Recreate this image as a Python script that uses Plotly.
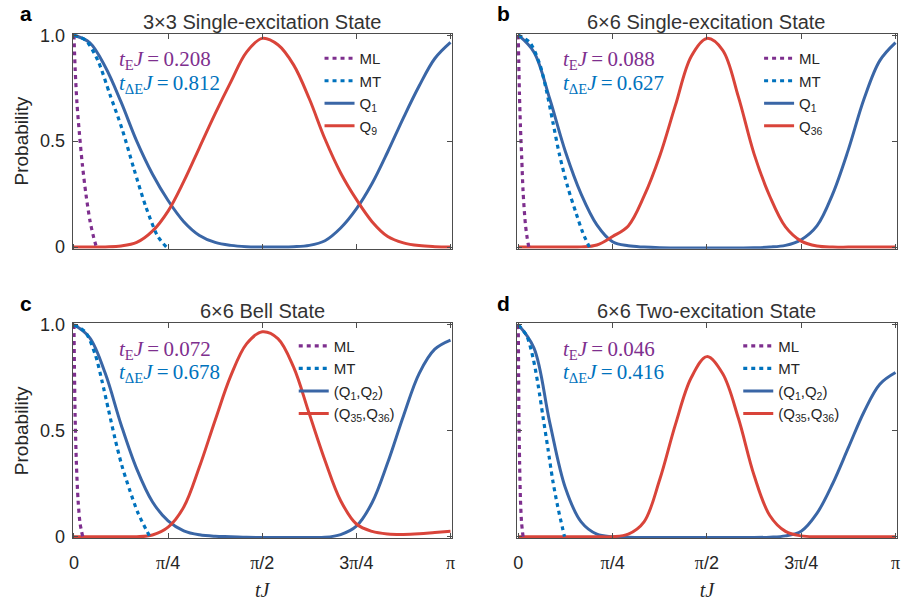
import numpy as np
import plotly.graph_objects as go

# ---------------- data ----------------
# common time grid tJ (step pi/24)
TJ_GRID = [0.0, 0.1309, 0.2618, 0.3927, 0.5236, 0.6545, 0.7854, 0.9163, 1.0472,
           1.1781, 1.3090, 1.4399, 1.5708, 1.7017, 1.8326, 1.9635, 2.0944, 2.2253,
           2.3562, 2.4871, 2.6180, 2.7489, 2.8798, 3.0107, 3.1416]

# panel a: 3x3 single-excitation state
A_START = [1.0, 0.965, 0.85, 0.685, 0.50, 0.345, 0.22, 0.12, 0.055, 0.022, 0.008, 0.002, 0.0,
           0.0005, 0.002, 0.008, 0.03, 0.09, 0.18, 0.30, 0.45, 0.61, 0.76, 0.89, 0.966]
A_END = [0.0, 0.0, 0.001, 0.005, 0.022, 0.075, 0.17, 0.31, 0.47, 0.63, 0.78, 0.92, 0.985,
         0.955, 0.86, 0.70, 0.51, 0.35, 0.225, 0.12, 0.05, 0.02, 0.007, 0.002, 0.0]
A_ML_T = [0.0, 0.01, 0.025, 0.045, 0.07, 0.10, 0.135, 0.165, 0.187]
A_ML_P = [1.0, 0.84, 0.68, 0.54, 0.39, 0.25, 0.12, 0.045, 0.0]
A_MT_T = [0.0, 0.1, 0.2, 0.3, 0.4, 0.5, 0.6, 0.7, 0.772]
A_MT_P = [1.0, 0.975, 0.88, 0.72, 0.56, 0.37, 0.19, 0.05, 0.0]

# panel b: 6x6 single-excitation state
B_START = [1.0, 0.92, 0.70, 0.45, 0.25, 0.105, 0.025, 0.006, 0.0, -0.003, -0.004, -0.004, -0.004,
           -0.004, -0.004, -0.003, 0.0, 0.008, 0.035, 0.10, 0.25, 0.46, 0.70, 0.88, 0.965]
B_END = [0.0, 0.0, 0.0, 0.0, 0.001, 0.01, 0.05, 0.10, 0.24, 0.43, 0.67, 0.90, 0.985,
         0.93, 0.71, 0.44, 0.24, 0.095, 0.028, 0.005, 0.0, 0.0, 0.0, 0.0, 0.0]
B_ML_T = [0.0, 0.004, 0.0097, 0.018, 0.029, 0.040, 0.059, 0.075, 0.088]
B_ML_P = [1.0, 0.875, 0.722, 0.569, 0.416, 0.263, 0.110, 0.04, 0.0]
B_MT_T = [0.0, 0.095, 0.178, 0.233, 0.288, 0.343, 0.412, 0.481, 0.536, 0.592]
B_MT_P = [1.0, 0.966, 0.865, 0.743, 0.59, 0.436, 0.283, 0.161, 0.070, 0.0]

# panel c: 6x6 Bell state
C_START = [1.0, 0.94, 0.77, 0.53, 0.32, 0.165, 0.075, 0.028, 0.009, 0.002, 0.0, -0.003, -0.004,
           -0.004, -0.004, -0.004, -0.003, 0.01, 0.05, 0.16, 0.35, 0.57, 0.77, 0.885, 0.928]
C_END = [0.0, 0.0, 0.0, 0.0, 0.0, 0.008, 0.045, 0.14, 0.33, 0.55, 0.76, 0.91, 0.967,
         0.935, 0.80, 0.58, 0.36, 0.17, 0.06, 0.025, 0.013, 0.011, 0.014, 0.02, 0.026]
C_ML_T = [0.0, 0.004, 0.0097, 0.0207, 0.0345, 0.051, 0.073]
C_ML_P = [1.0, 0.80, 0.569, 0.34, 0.171, 0.064, 0.0]
C_MT_T = [0.0, 0.095, 0.178, 0.233, 0.288, 0.343, 0.398, 0.467, 0.536, 0.633]
C_MT_P = [1.0, 0.966, 0.859, 0.737, 0.599, 0.462, 0.339, 0.217, 0.110, 0.0]

# panel d: 6x6 two-excitation state
D_START = [1.0, 0.89, 0.54, 0.23, 0.07, 0.012, 0.0, -0.003, -0.004, -0.004, -0.004, -0.004, -0.004,
           -0.004, -0.004, -0.004, -0.002, 0.004, 0.026, 0.11, 0.25, 0.42, 0.59, 0.72, 0.775]
D_END = [0.0, 0.0, 0.0, 0.0, 0.0, 0.0, 0.0, 0.012, 0.07, 0.27, 0.53, 0.75, 0.85,
         0.77, 0.56, 0.29, 0.10, 0.025, 0.004, 0.0, 0.0, 0.0, 0.0, 0.0, 0.0]
D_ML_T = [0.0, 0.003, 0.006, 0.011, 0.018, 0.027, 0.040]
D_ML_P = [1.0, 0.75, 0.55, 0.35, 0.18, 0.07, 0.0]
D_MT_T = [0.0, 0.068, 0.123, 0.164, 0.205, 0.247, 0.288, 0.329, 0.385]
D_MT_P = [1.0, 0.951, 0.844, 0.72, 0.569, 0.416, 0.263, 0.141, 0.0]

TITLES = ["3\u00d73 Single-excitation State", "6\u00d76 Single-excitation State",
          "6\u00d76 Bell State", "6\u00d76 Two-excitation State"]
LETTERS = ["a", "b", "c", "d"]
T_E = ["0.208", "0.088", "0.072", "0.046"]
T_DE = ["0.812", "0.627", "0.678", "0.416"]
START_NAMES = ["Q<sub>1</sub>", "Q<sub>1</sub>", "(Q<sub>1</sub>,Q<sub>2</sub>)", "(Q<sub>1</sub>,Q<sub>2</sub>)"]
END_NAMES = ["Q<sub>9</sub>", "Q<sub>36</sub>", "(Q<sub>35</sub>,Q<sub>36</sub>)", "(Q<sub>35</sub>,Q<sub>36</sub>)"]
X_TICK_TEXT = ["0", "<span style='font-family:Liberation Serif'>\u03c0</span>/4",
               "<span style='font-family:Liberation Serif'>\u03c0</span>/2",
               "3<span style='font-family:Liberation Serif'>\u03c0</span>/4",
               "<span style='font-family:Liberation Serif'>\u03c0</span>"]
Y_TICK_TEXT = ["0", "0.5", "1.0"]

PANELS = [
    (A_START, A_END, A_ML_T, A_ML_P, A_MT_T, A_MT_P),
    (B_START, B_END, B_ML_T, B_ML_P, B_MT_T, B_MT_P),
    (C_START, C_END, C_ML_T, C_ML_P, C_MT_T, C_MT_P),
    (D_START, D_END, D_ML_T, D_ML_P, D_MT_T, D_MT_P),
]

# ---------------- style ----------------
W, H = 901, 605
PURPLE = "#7E2F8E"
MT_BLUE = "#0072BD"
Q_BLUE = "#3A66A6"
RED = "#D9443A"
AX = "#4d4d4d"
SANS = "Liberation Sans, Arial, sans-serif"
SERIF = "Liberation Serif, Times New Roman, serif"

# axes boxes in pixels: (left, right, top, bottom) for data 0..pi and 0..1
BOXES = [(70.5, 450.0, 28.0, 246.0), (518.3, 898.5, 28.0, 246.0),
         (70.5, 450.0, 326.0, 544.0), (518.3, 898.5, 326.0, 544.0)]
XPAD, YPAD = 0.012, 0.008
# legend anchor (left, top) in pixels
LEGEND_POS = [(318, 35), (761, 35), (292, 331), (740, 331)]

fig = go.Figure()
layout = dict(width=W, height=H, margin=dict(l=0, r=0, t=0, b=0),
              paper_bgcolor="white", plot_bgcolor="white", showlegend=True,
              font=dict(family=SANS, color="#262626"))
annotations = []

for i, (start, end, ml_t, ml_p, mt_t, mt_p) in enumerate(PANELS):
    n = "" if i == 0 else str(i + 1)
    xa, ya = "x" + n, "y" + n
    leg = "legend" + n
    left, right, top, bottom = BOXES[i]
    wpx, hpx = right - left, bottom - top
    dom_x = [(left - XPAD / np.pi * wpx) / W, (right + XPAD / np.pi * wpx) / W]
    dom_y = [1 - (bottom + YPAD * hpx) / H, 1 - (top - YPAD * hpx) / H]
    bottom_row = i >= 2
    left_col = i % 2 == 0

    fig.add_trace(go.Scatter(x=TJ_GRID, y=start, mode="lines", name=START_NAMES[i],
                             line=dict(color=Q_BLUE, width=3, shape="spline", smoothing=1.0),
                             xaxis=xa, yaxis=ya, legend=leg, legendrank=3))
    fig.add_trace(go.Scatter(x=TJ_GRID, y=end, mode="lines", name=END_NAMES[i],
                             line=dict(color=RED, width=3, shape="spline", smoothing=1.0),
                             xaxis=xa, yaxis=ya, legend=leg, legendrank=4))
    fig.add_trace(go.Scatter(x=ml_t, y=ml_p, mode="lines", name="ML",
                             line=dict(color=PURPLE, width=3.2, dash="4px,4px",
                                       shape="spline", smoothing=0.8),
                             xaxis=xa, yaxis=ya, legend=leg, legendrank=1))
    fig.add_trace(go.Scatter(x=mt_t, y=mt_p, mode="lines", name="MT",
                             line=dict(color=MT_BLUE, width=3.2, dash="4px,4px",
                                       shape="spline", smoothing=0.8),
                             xaxis=xa, yaxis=ya, legend=leg, legendrank=2))

    xaxis = dict(
        domain=dom_x, anchor=ya, range=[-XPAD, np.pi + XPAD],
        tickmode="array", tickvals=[0, np.pi / 4, np.pi / 2, 3 * np.pi / 4, np.pi],
        showticklabels=bottom_row,
        ticks="inside", ticklen=5, tickwidth=1, tickcolor=AX,
        showline=True, linecolor=AX, linewidth=1, mirror="ticks",
        showgrid=False, zeroline=False,
        tickfont=dict(size=18, color="#262626"),
    )
    if bottom_row:
        xaxis.update(ticktext=X_TICK_TEXT, ticklabelstandoff=8,
                     title=dict(text="<i>tJ</i>", standoff=10,
                                font=dict(family=SERIF, size=20, color="#262626")))
    yaxis = dict(
        domain=dom_y, anchor=xa, range=[-YPAD, 1 + YPAD],
        tickmode="array", tickvals=[0, 0.5, 1.0],
        showticklabels=left_col,
        ticks="inside", ticklen=5, tickwidth=1, tickcolor=AX,
        showline=True, linecolor=AX, linewidth=1, mirror="ticks",
        showgrid=False, zeroline=False,
        tickfont=dict(size=18, color="#262626"),
    )
    if left_col:
        yaxis.update(ticktext=Y_TICK_TEXT, ticklabelstandoff=3,
                     title=dict(text="Probability", standoff=6,
                                font=dict(family=SANS, size=19, color="#262626")))
    layout["xaxis" + n] = xaxis
    layout["yaxis" + n] = yaxis

    lx, ly = LEGEND_POS[i]
    layout[leg] = dict(x=lx / W, y=1 - ly / H, xanchor="left", yanchor="top",
                       bgcolor="rgba(0,0,0,0)", borderwidth=0, itemwidth=30,
                       font=dict(family=SANS, size=15, color="#262626"),
                       tracegroupgap=0)

    # panel title and letter
    cx = (left + right) / 2
    annotations.append(dict(text=TITLES[i], x=cx / W, y=1 - (top - 14) / H,
                            xref="paper", yref="paper", showarrow=False,
                            xanchor="center", yanchor="middle",
                            font=dict(family=SANS, size=20, color="#333333")))
    annotations.append(dict(text="<b>" + LETTERS[i] + "</b>",
                            x=(left - 48.5 if left_col else left - 15.3) / W,
                            y=1 - (top - 22) / H, xref="paper", yref="paper", showarrow=False,
                            xanchor="center", yanchor="middle",
                            font=dict(family=SANS, size=21, color="black")))
    # speed-limit times
    annotations.append(dict(text="<i>t</i><sub>E</sub><i>J</i>\u2009=\u2009" + T_E[i],
                            x=(left + 43) / W, y=1 - (top + 25.7) / H,
                            xref="paper", yref="paper", showarrow=False,
                            xanchor="left", yanchor="middle",
                            font=dict(family=SERIF, size=21, color=PURPLE)))
    annotations.append(dict(text="<i>t</i><sub>\u0394E</sub><i>J</i>\u2009=\u2009" + T_DE[i],
                            x=(left + 43) / W, y=1 - (top + 50) / H,
                            xref="paper", yref="paper", showarrow=False,
                            xanchor="left", yanchor="middle",
                            font=dict(family=SERIF, size=21, color=MT_BLUE)))

layout["annotations"] = annotations
fig.update_layout(**layout)
fig.write_html("out.html")
